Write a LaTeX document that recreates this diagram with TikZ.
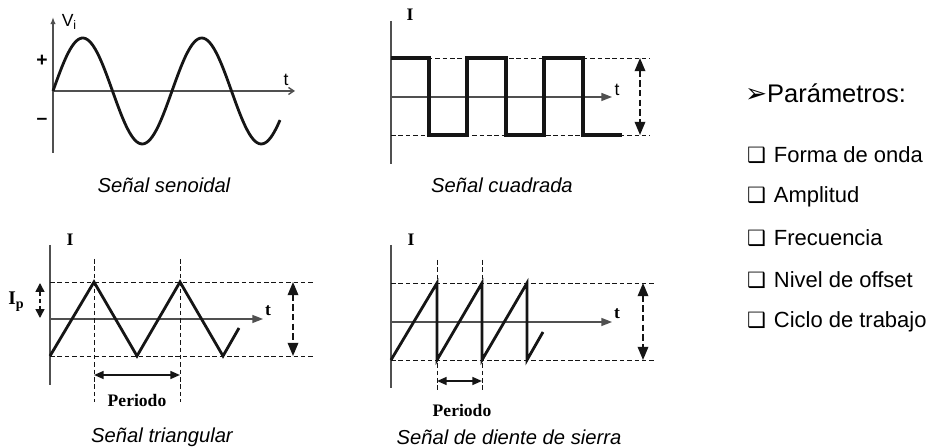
\documentclass[tikz,border=0pt]{standalone}
\usepackage{fontspec}
\setmainfont{Liberation Serif}
\setsansfont{Liberation Sans}
\newfontfamily\symfont{DejaVu Sans}
\usetikzlibrary{arrows.meta}
\definecolor{ink}{HTML}{151515}
\definecolor{axisgray}{HTML}{505050}

\begin{document}
\begin{tikzpicture}[x=0.02cm,y=-0.02cm,font=\sffamily\fontsize{11.5}{13}\selectfont,
 wave/.style={line width=1.6pt,draw=ink,line join=miter},
 axis/.style={line width=.8pt,draw=axisgray},
 axisarrow/.style={axis,-{Triangle[length=6pt,width=4.5pt]}},
 guide/.style={draw=ink,line width=.5pt,dash pattern=on 2.6pt off 1.6pt},
 span/.style={guide,line width=1pt,dash pattern=on 3.5pt off 2pt,{Triangle[length=7.5pt,width=6pt]}-{Triangle[length=7.5pt,width=6pt]}},
 periodarrow/.style={draw=ink,line width=1pt,{Triangle[length=5.5pt,width=4.5pt]}-{Triangle[length=5.5pt,width=4.5pt]}},
 caption/.style={font=\sffamily\itshape\fontsize{11.5}{13}\selectfont},
 ilabel/.style={font=\rmfamily\bfseries\fontsize{10}{12}\selectfont},
 tlabel/.style={font=\sffamily\fontsize{10}{12}\selectfont,inner sep=1pt},
 item/.style={anchor=west,font=\sffamily\fontsize{12.5}{14}\selectfont,inner sep=1pt}]
\path[use as bounding box] (0,0) rectangle (935,448);

% senoidal
\draw[axis,-{Latex[length=4pt,width=3pt]}] (53,153)--(53,17);
\draw[axis,-{Straight Barb[length=3pt,width=4pt]}] (53,91)--(295,91);
\node[tlabel] (vsin) at (69,22) {V\raisebox{-.35ex}{\scriptsize i}};
\node[tlabel] (tsin) at (286,80) {t};
\node[font=\sffamily\bfseries\fontsize{11}{12}\selectfont] (plus) at (42,61) {+};
\node[font=\sffamily\bfseries\fontsize{11}{12}\selectfont] (minus) at (42,121) {--};
\draw[wave,smooth] plot[domain=53:280,samples=120] (\x,{91-53*sin((\x-53)/119*360)});
\node[caption] (capsin) at (164,185) {Señal senoidal};

% cuadrada
\draw[axis] (391,21)--(391,164);
\draw[axisarrow] (391,97)--(612,97);
\node[tlabel] (tsq) at (617,90) {t};
\node[ilabel] (isq) at (410,15) {I};
\foreach \y in {58,135} \draw[guide] (391,\y)--(650,\y);
\draw[wave,line width=1.8pt] (391,58) -| (429,135) -| (467,58) -| (506,135) -| (544,58) -| (583,135) -- (622,135);
\draw[span] (640,58)--(640,135);
\node[caption] (capsq) at (502,185) {Señal cuadrada};

% triangular
\draw[axis] (50,245)--(50,385);
\draw[axisarrow] (50,319)--(263,319);
\node[ilabel] (ttri) at (268,311) {t};
\node[ilabel] (itri) at (70,240) {I};
\foreach \y in {282,356} \draw[guide] (50,\y)--(313,\y);
\foreach \x in {94,180} \draw[guide] (\x,259)--(\x,402);
\draw[wave] (50,356)--(94,282)--(137,356)--(180,282)--(223,356)--(239,328);
\draw[span] (293,282)--(293,356);
\draw[guide,line width=.9pt,{Triangle[length=5pt,width=5pt]}-{Triangle[length=5pt,width=5pt]}] (40,283)--(40,318);
\node[ilabel,font=\rmfamily\bfseries\fontsize{11}{12}\selectfont] (ip) at (16,302) {I\raisebox{-.45ex}{\fontsize{8}{9}\selectfont p}};
\coordinate (tria) at (94,375);
\coordinate (trib) at (180,375);
\draw[periodarrow] (tria)--(trib);
\node[ilabel] (pertri) at (137,400) {Periodo};
\node[caption] (captri) at (162,437) {Señal triangular};

% diente de sierra
\draw[axis] (391,245)--(391,388);
\draw[axisarrow] (391,322)--(612,322);
\node[ilabel] (tsaw) at (617,314) {t};
\node[ilabel] (isaw) at (411,240) {I};
\foreach \y in {283,360} \draw[guide] (391,\y)--(655,\y);
\foreach \x in {437,482} \draw[guide] (\x,260)--(\x,392);
\draw[wave] (391,360)--(437,283)--(437,360)--(482,283)--(482,360)--(527,283)--(527,360)--(543,332);
\draw[span] (643,283)--(643,360);
\coordinate (sawa) at (437,381);
\coordinate (sawb) at (482,381);
\draw[periodarrow] (sawa)--(sawb);
\node[ilabel] (persaw) at (462,410) {Periodo};
\node[caption] (capsaw) at (509,437) {Señal de diente de sierra};

% parametros
\node[item,font=\sffamily\fontsize{14.5}{16}\selectfont] (param) at (743,93) {{\symfont\fontsize{15}{16}\selectfont ➢}Parámetros:};
\foreach \y/\txt [count=\i] in {155/Forma de onda,197/Amplitud,238/Frecuencia,280/Nivel de offset,322/Ciclo de trabajo}
 \node[item] (item\i) at (745,\y) {{\symfont\fontsize{12}{14}\selectfont ❑}\hspace{4.5pt}\txt};
\end{tikzpicture}
\end{document}
